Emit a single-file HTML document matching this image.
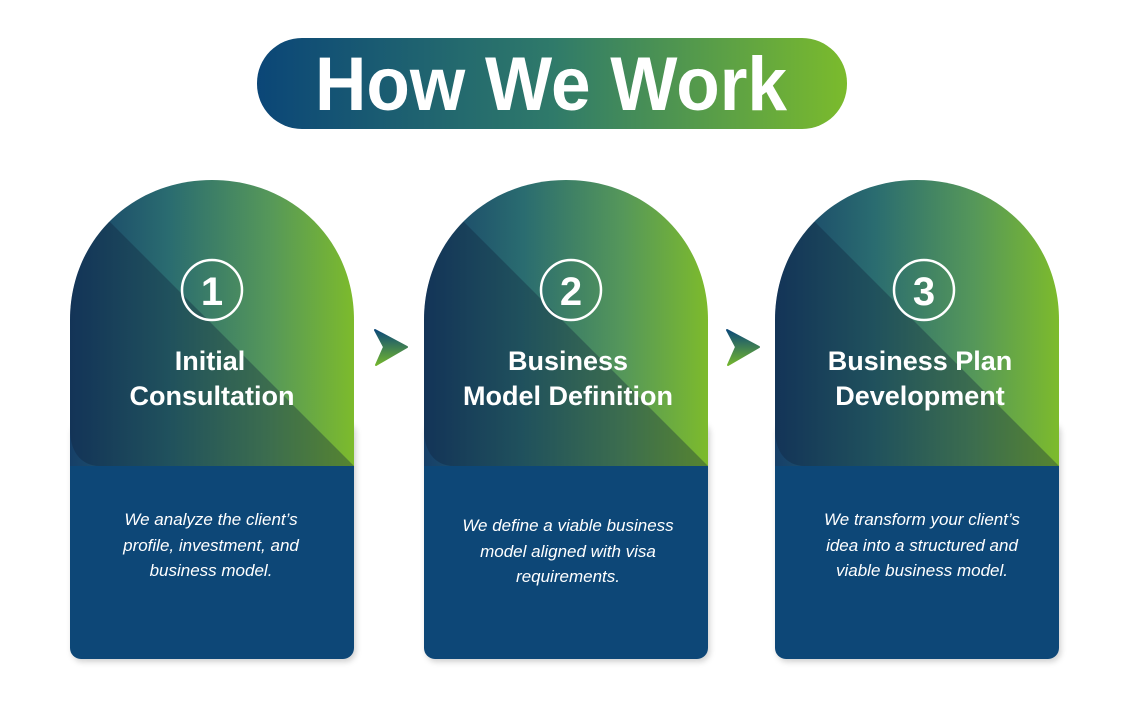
<!DOCTYPE html>
<html><head><meta charset="utf-8"><style>
html,body{margin:0;padding:0;background:#fff;}
svg{display:block}
</style></head><body>
<svg width="1144" height="724" viewBox="0 0 1144 724" xmlns="http://www.w3.org/2000/svg">
<defs>
<linearGradient id="pill" x1="0" x2="1" y1="0" y2="0">
<stop offset="0" stop-color="#0b4677"/><stop offset="0.5" stop-color="#2f7a6a"/><stop offset="1" stop-color="#7bbb2c"/>
</linearGradient>
<linearGradient id="dome" x1="0" x2="1" y1="0" y2="0">
<stop offset="0" stop-color="#163f68"/><stop offset="0.35" stop-color="#2a6c70"/><stop offset="0.7" stop-color="#55975a"/><stop offset="1" stop-color="#7dbb2c"/>
</linearGradient>
<linearGradient id="arr" x1="0" x2="0" y1="0" y2="1">
<stop offset="0" stop-color="#0d4a78"/><stop offset="1" stop-color="#72b52e"/>
</linearGradient>
<filter id="sh" x="-10%" y="-10%" width="120%" height="120%"><feDropShadow dx="2" dy="3" stdDeviation="3" flood-color="#000" flood-opacity="0.18"/></filter>
</defs>

<rect x="257" y="38" width="590" height="91" rx="45" fill="url(#pill)"/>
<text x="551" y="110" text-anchor="middle" font-family="Liberation Sans, sans-serif" font-weight="bold" font-size="76" fill="#fff" textLength="472" lengthAdjust="spacingAndGlyphs">How We Work</text>

<g id="c1">
<rect x="70" y="420" width="284" height="239" rx="11" fill="#0b4677" filter="url(#sh)"/>
<path d="M70,466 L70,320 C70,240 132,180 212,180 C292,180 354,240 354,320 L354,466 Z" fill="url(#dome)"/>
<clipPath id="cp1"><path d="M70,466 L70,320 C70,240 132,180 212,180 C292,180 354,240 354,320 L354,466 Z"/></clipPath>
<path d="M110,222 L354,466 L100,466 C80,466 70,450 70,430 L70,222 Z" fill="#0e1f3a" opacity="0.35" clip-path="url(#cp1)"/>
<circle cx="212" cy="290" r="30" fill="none" stroke="#fff" stroke-width="2.5"/>
<text x="212" y="305" text-anchor="middle" font-family="Liberation Sans, sans-serif" font-weight="bold" font-size="40" fill="#fff">1</text>
<g font-family="Liberation Sans, sans-serif" font-weight="bold" font-size="27" fill="#fff" text-anchor="middle">
<text x="210" y="370">Initial</text><text x="212" y="405">Consultation</text></g>
<g font-family="Liberation Sans, sans-serif" font-style="italic" font-size="17" fill="#fff" text-anchor="middle">
<text x="211" y="525">We analyze the client’s</text><text x="211" y="551">profile, investment, and</text><text x="211" y="576">business model.</text></g>
</g>

<g>
<rect x="424" y="420" width="284" height="239" rx="11" fill="#0b4677" filter="url(#sh)"/>
<path d="M424,466 L424,320 C424,240 486,180 566,180 C646,180 708,240 708,320 L708,466 Z" fill="url(#dome)"/>
<clipPath id="cp2"><path d="M424,466 L424,320 C424,240 486,180 566,180 C646,180 708,240 708,320 L708,466 Z"/></clipPath>
<path d="M464,222 L708,466 L454,466 C434,466 424,450 424,430 L424,222 Z" fill="#0e1f3a" opacity="0.35" clip-path="url(#cp2)"/>
<circle cx="571" cy="290" r="30" fill="none" stroke="#fff" stroke-width="2.5"/>
<text x="571" y="305" text-anchor="middle" font-family="Liberation Sans, sans-serif" font-weight="bold" font-size="40" fill="#fff">2</text>
<g font-family="Liberation Sans, sans-serif" font-weight="bold" font-size="27" fill="#fff" text-anchor="middle">
<text x="568" y="370">Business</text><text x="568" y="405">Model Definition</text></g>
<g font-family="Liberation Sans, sans-serif" font-style="italic" font-size="17" fill="#fff" text-anchor="middle">
<text x="568" y="531">We define a viable business</text><text x="568" y="557">model aligned with visa</text><text x="568" y="582">requirements.</text></g>
</g>

<g>
<rect x="775" y="420" width="284" height="239" rx="11" fill="#0b4677" filter="url(#sh)"/>
<path d="M775,466 L775,320 C775,240 837,180 917,180 C997,180 1059,240 1059,320 L1059,466 Z" fill="url(#dome)"/>
<clipPath id="cp3"><path d="M775,466 L775,320 C775,240 837,180 917,180 C997,180 1059,240 1059,320 L1059,466 Z"/></clipPath>
<path d="M815,222 L1059,466 L805,466 C785,466 775,450 775,430 L775,222 Z" fill="#0e1f3a" opacity="0.35" clip-path="url(#cp3)"/>
<circle cx="924" cy="290" r="30" fill="none" stroke="#fff" stroke-width="2.5"/>
<text x="924" y="305" text-anchor="middle" font-family="Liberation Sans, sans-serif" font-weight="bold" font-size="40" fill="#fff">3</text>
<g font-family="Liberation Sans, sans-serif" font-weight="bold" font-size="27" fill="#fff" text-anchor="middle">
<text x="920" y="370">Business Plan</text><text x="920" y="405">Development</text></g>
<g font-family="Liberation Sans, sans-serif" font-style="italic" font-size="17" fill="#fff" text-anchor="middle">
<text x="922" y="525">We transform your client’s</text><text x="922" y="551">idea into a structured and</text><text x="922" y="576">viable business model.</text></g>
</g>

<path d="M375,330 L407,347 L376,365 L384,347 Z" fill="url(#arr)" stroke="url(#arr)" stroke-width="2" stroke-linejoin="round"/>
<path d="M727,330 L759,347 L728,365 L736,347 Z" fill="url(#arr)" stroke="url(#arr)" stroke-width="2" stroke-linejoin="round"/>
</svg>
</body></html>
